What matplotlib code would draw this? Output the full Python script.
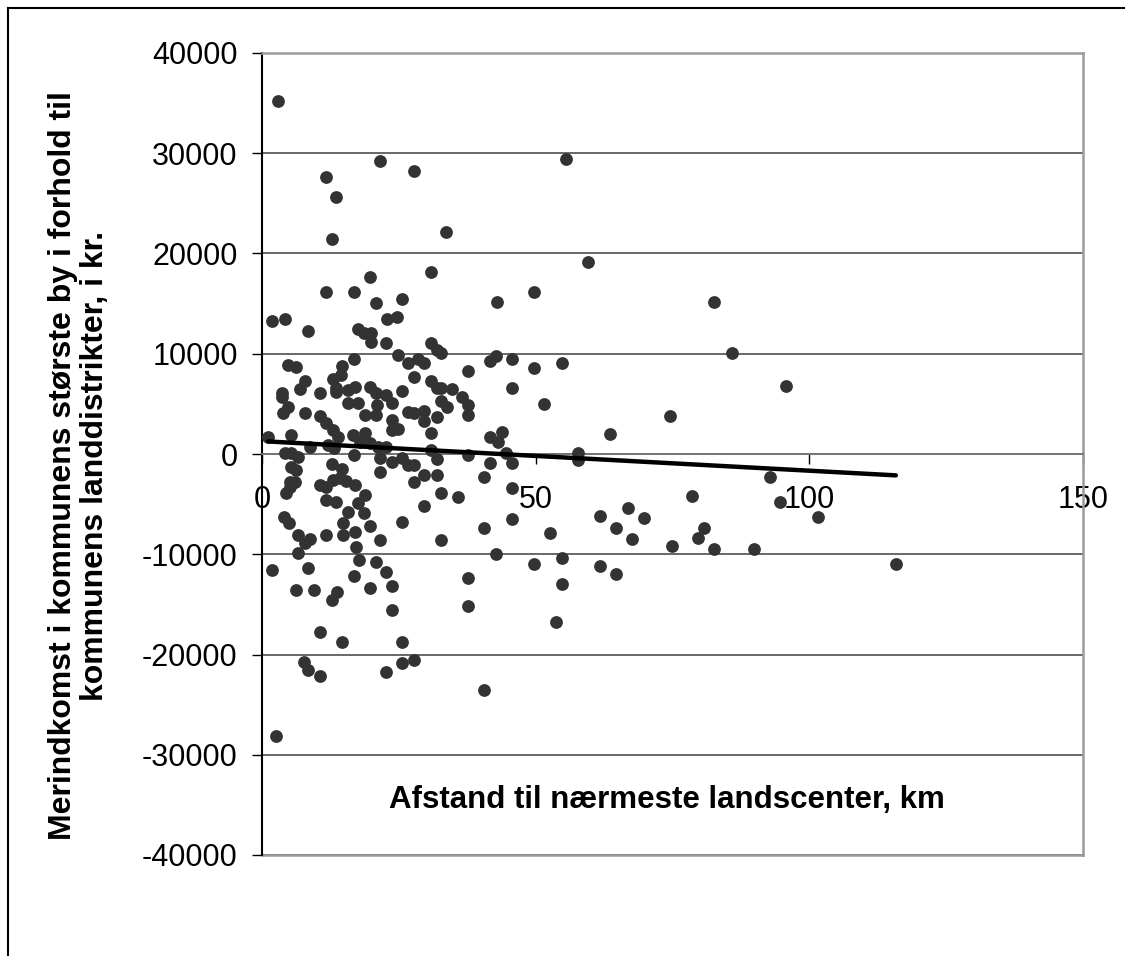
import numpy as np
import matplotlib
matplotlib.use("Agg")
import matplotlib.pyplot as plt
from matplotlib.lines import Line2D

plt.rcParams["font.family"] = ["Liberation Sans", "DejaVu Sans"]
plt.rcParams["axes.unicode_minus"] = False

# afstand til nærmeste landscenter (km) / merindkomst (kr.)
afstand = [
    2.9, 55.5, 21.6, 27.8, 11.7, 13.5, 33.6, 12.8, 59.6, 30.9, 19.7,
    49.7, 11.7, 16.8, 42.9, 82.6, 20.8, 25.6, 1.8, 4.2, 8.4, 22.8, 24.7,
    17.5, 18.6, 19.9, 19.9, 22.7, 30.9, 32.0, 32.7, 85.9, 24.8, 16.8,
    26.7, 28.5, 29.6, 42.7, 41.7, 45.7, 49.7, 54.8,
    4.7, 6.2, 14.6, 14.4, 13.0, 37.6, 27.8, 7.9, 6.9, 30.9, 32.0, 32.7,
    34.7, 3.7, 3.7, 10.6, 13.5, 13.5, 15.7, 17.0, 19.7, 20.8, 22.7, 25.6,
    45.7, 95.7, 36.5, 37.6, 32.7, 33.8, 15.7, 17.5, 21.0, 23.7, 51.5, 4.7,
    3.8, 7.9, 10.6, 18.8, 20.8, 26.7, 27.8, 29.6, 29.6, 32.0, 37.6, 23.7,
    11.7, 13.0, 13.9, 23.7, 24.8, 74.5, 63.6, 41.7, 43.1, 43.8, 1.1, 5.3,
    16.6, 18.8, 17.9, 19.7, 21.2, 22.7, 30.9, 8.8, 12.1, 13.2, 4.2, 5.3,
    6.6, 16.8, 30.9, 37.6, 44.6, 57.7, 57.7,
    21.6, 23.7, 25.6, 26.7, 27.8, 32.0, 41.7, 45.7, 12.8, 14.6, 5.3, 6.2,
    21.6, 29.6, 32.0, 40.6, 27.8, 5.1, 6.0, 5.1, 4.4, 10.6, 11.7, 13.0,
    14.2, 15.3, 17.0, 11.7, 13.5, 18.8, 17.5, 29.6, 32.7, 35.8, 45.7,
    92.8, 78.6, 94.6,
    15.7, 18.6, 4.0, 4.9, 14.8, 19.7, 25.6, 45.7, 40.6, 101.6, 66.9, 61.7,
    69.8, 64.7, 67.6, 80.7, 79.6, 74.9, 82.6, 89.9, 52.6, 6.6, 7.9, 8.8,
    11.7, 14.8, 17.0, 21.6, 32.7, 6.6, 17.2, 17.7, 20.8, 42.7, 49.7, 54.8,
    61.7, 64.7, 115.8,
    1.8, 8.4, 22.7, 16.8, 37.6, 54.8, 6.2, 9.5, 13.7, 12.8, 19.7, 23.7,
    23.7, 37.6, 53.7, 10.6, 14.6, 25.6, 7.7, 8.4, 10.6, 22.7, 25.6, 27.8,
    40.6, 2.6,
]
merindkomst = [
    35200, 29400, 29200, 28200, 27600, 25600, 22100, 21400, 19200, 18200, 17700,
    16200, 16200, 16200, 15200, 15200, 15100, 15500, 13300, 13500, 12300, 13500, 13700,
    12500, 12100, 12100, 11200, 11100, 11100, 10400, 10100, 10100, 9900, 9500,
    9100, 9500, 9100, 9800, 9300, 9500, 8600, 9100,
    8900, 8700, 8800, 7900, 7500, 8300, 7700, 7300, 6500, 7300, 6600, 6600,
    6500, 6100, 5700, 6100, 6600, 6200, 6400, 6700, 6700, 6100, 5900, 6300,
    6600, 6800, 5700, 4900, 5300, 4700, 5100, 5100, 4900, 5100, 5000, 4700,
    4100, 4100, 3800, 3900, 3900, 4200, 4100, 4300, 3300, 3700, 3900, 3400,
    3100, 2400, 1700, 2400, 2500, 3800, 2000, 1700, 1200, 2200, 1700, 1900,
    1900, 2100, 1200, 1100, 700, 700, 2100, 700, 900, 600, 100, 100,
    -300, -100, 400, -100, 100, 100, -600,
    -400, -800, -400, -1100, -1100, -500, -900, -900, -1000, -1500, -1300, -1600,
    -1800, -2100, -2100, -2300, -2800, -2800, -2800, -3300, -3900, -3100, -3300, -2600,
    -2400, -2700, -3100, -4600, -4800, -4100, -4900, -5200, -3900, -4300, -3400,
    -2300, -4200, -4800,
    -5800, -5900, -6300, -6900, -6900, -7200, -6800, -6500, -7400, -6300, -5400, -6200,
    -6400, -7400, -8500, -7400, -8400, -9200, -9500, -9500, -7900, -8100, -8900, -8500,
    -8100, -8100, -7800, -8600, -8600, -9900, -9300, -10600, -10800, -10000, -11000, -10400,
    -11200, -12000, -11000,
    -11600, -11400, -11800, -12200, -12400, -13000, -13600, -13600, -13800, -14600, -13400, -13200,
    -15600, -15200, -16800, -17800, -18800, -18800, -20700, -21500, -22100, -21700, -20800, -20500,
    -23500, -28100,
]
x_ticks = [0, 50, 100, 150]
y_ticks = [-40000, -30000, -20000, -10000, 0, 10000, 20000, 30000, 40000]

x = np.array(afstand)
y = np.array(merindkomst)

fig = plt.figure(figsize=(11.25, 9.56), dpi=100)
ax = fig.add_axes([262 / 1125, 1 - 855 / 956, 821 / 1125, 802 / 956])

ax.set_xlim(0, 150)
ax.set_ylim(-40000, 40000)
ax.set_xticks(x_ticks)
ax.set_yticks(y_ticks)
ax.yaxis.grid(True, color="#404040", linewidth=1.1)
ax.set_axisbelow(True)

ax.plot(x, y, "o", color="#333333", markersize=9.2, markeredgewidth=0, zorder=3)

# lineær trendlinje
k, m = np.polyfit(x, y, 1)
xs = np.array([x.min(), x.max()])
ax.plot(xs, k * xs + m, color="black", linewidth=3.2, solid_capstyle="round", zorder=4)

ax.spines["bottom"].set_position(("data", 0))
ax.spines["bottom"].set_color("#777777")
ax.spines["bottom"].set_linewidth(1.3)
ax.spines["left"].set_color("black")
ax.spines["left"].set_linewidth(1.5)
for s in ["top", "right"]:
    ax.spines[s].set_color("#9a9a9a")
    ax.spines[s].set_linewidth(1.8)
ax.axhline(-40000, color="#9a9a9a", linewidth=1.8, clip_on=False, zorder=1)

ax.tick_params(axis="x", direction="out", length=7.5, width=1, pad=15, labelsize=22, color="black")
ax.tick_params(axis="y", direction="out", length=7.5, width=1, pad=10, labelsize=22, color="black")

fig.text(667 / 1125, 1 - 800 / 956, "Afstand til nærmeste landscenter, km",
         ha="center", va="center", fontsize=22.5, fontweight="bold")
fig.text(79 / 1125, 1 - 466 / 956,
         "Merindkomst i kommunens største by i forhold til\nkommunens landdistrikter, i kr.",
         ha="center", va="center", rotation=90, fontsize=23, fontweight="bold",
         multialignment="center", linespacing=1.05)

# ramme om diagrammet
fig.add_artist(Line2D([8 / 1125, 1], [1 - 8 / 956, 1 - 8 / 956], color="black", linewidth=1.5))
fig.add_artist(Line2D([8 / 1125, 8 / 1125], [0, 1 - 8 / 956], color="black", linewidth=1.5))

fig.savefig("out.png", dpi=100, facecolor="white")
